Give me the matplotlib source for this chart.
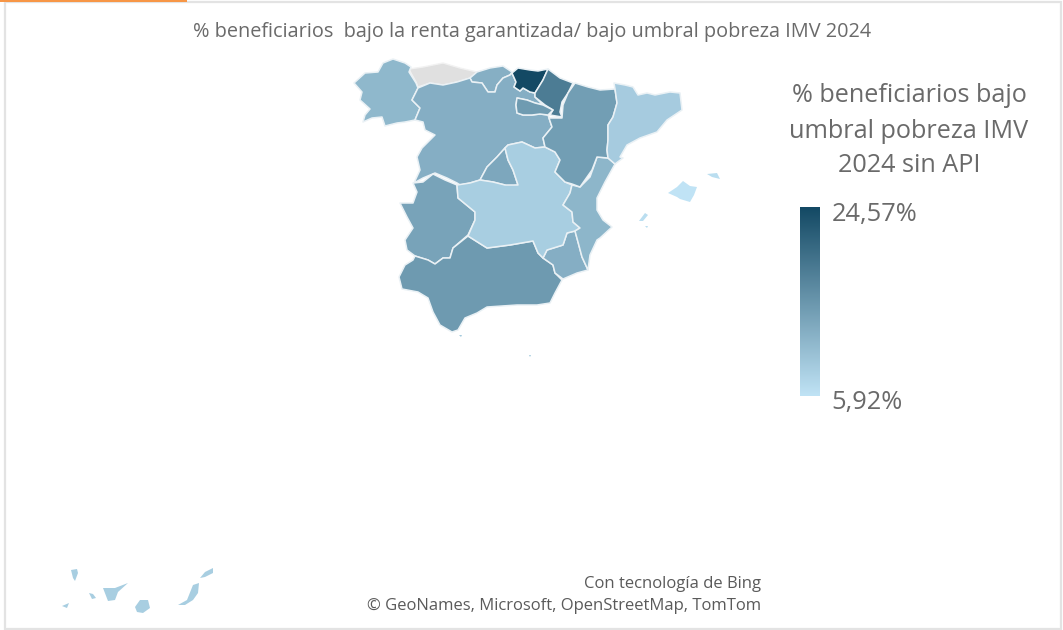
import numpy as np
import matplotlib
matplotlib.use("Agg")
import matplotlib.pyplot as plt
from matplotlib.colors import LinearSegmentedColormap, Normalize
from matplotlib.patches import Polygon, Rectangle

plt.rcParams['font.family'] = ['Open Sans', 'DejaVu Sans']

title = "% beneficiarios  bajo la renta garantizada/ bajo umbral pobreza IMV 2024"
legend_title = ["% beneficiarios bajo", "umbral pobreza IMV", "2024 sin API"]
legend_max = "24,57%"
legend_min = "5,92%"
credit = ["Con tecnología de Bing", "© GeoNames, Microsoft, OpenStreetMap, TomTom"]
v_min, v_max = 5.92, 24.57

# Region outlines, in map units
galicia = [(383,63),(393,59),(405,63),(411,67),(409,72),(416,83),(418,88),(412,100),(420,108),(415,120),(405,122),(397,123),(385,126),(382,117),(372,118),(363,122),(365,115),(370,109),(360,100),(362,92),(354,83),(365,73),(378,72)]
asturias = [(409,69),(423,67),(443,63),(460,68),(477,72),(470,78),(457,82),(443,85),(430,83),(418,87),(416,82),(411,73)]
cantabria = [(477,72),(490,68),(503,66),(512,72),(510,75),(503,78),(497,85),(495,92),(488,92),(482,83),(472,82),(470,78)]
pais_vasco = [(512,73),(518,68),(530,70),(538,71),(548,69),(543,80),(535,93),(530,92),(523,88),(520,91),(514,87),(516,82)]
navarra = [(548,69),(560,78),(573,83),(568,93),(562,102),(560,112),(562,117),(550,115),(553,110),(545,105),(535,97),(535,93),(543,80)]
la_rioja = [(517,98),(527,100),(535,103),(543,105),(553,110),(548,115),(540,114),(532,115),(523,115),(517,113),(516,105)]
castilla_leon = [(418,88),(430,83),(443,85),(457,82),(470,78),(472,82),(482,83),(488,92),(495,92),(497,85),(503,78),(510,75),(512,73),(516,82),(514,87),(520,91),(523,88),(530,92),(535,93),(535,97),(543,105),(535,103),(527,100),(517,98),(516,105),(517,113),(523,115),(532,115),(540,114),(548,115),(549,118),(552,127),(543,138),(545,147),(535,148),(522,142),(508,145),(505,148),(497,157),(487,167),(480,180),(470,183),(460,185),(457,183),(447,178),(435,173),(423,178),(414,183),(420,170),(417,157),(422,148),(435,135),(425,130),(423,122),(415,120),(420,108),(412,100)]
madrid = [(505,148),(497,157),(487,167),(480,180),(493,182),(505,185),(499,192),(507,187),(518,185),(513,170),(508,160)]
extremadura = [(413,183),(423,182),(433,174),(445,180),(457,185),(458,198),(475,212),(475,220),(468,235),(453,248),(450,258),(443,258),(435,264),(428,260),(415,256),(407,250),(405,240),(413,228),(407,217),(400,203),(413,203),(417,192)]
andalucia = [(415,256),(428,260),(435,264),(443,258),(450,258),(453,248),(468,236),(487,248),(510,245),(533,241),(538,253),(543,258),(553,265),(555,273),(562,280),(555,293),(550,303),(537,305),(517,305),(487,307),(477,313),(465,318),(458,330),(452,332),(440,325),(433,312),(428,298),(418,292),(402,289),(399,277),(405,265),(413,260)]
murcia = [(543,258),(547,250),(563,245),(567,233),(575,231),(578,242),(582,257),(588,270),(577,273),(563,279),(555,273),(553,265)]
castilla_mancha = [(457,185),(470,183),(480,180),(493,182),(505,185),(518,185),(513,170),(508,160),(505,148),(508,145),(522,142),(535,148),(545,147),(555,152),(560,160),(555,172),(565,182),(572,185),(570,193),(563,205),(572,212),(573,222),(580,228),(575,231),(567,233),(563,245),(547,250),(543,258),(538,253),(533,241),(510,245),(487,248),(468,236),(475,220),(475,212),(458,198)]
valencia = [(597,157),(608,158),(615,164),(605,182),(597,198),(597,210),(603,220),(612,227),(600,238),(597,240),(590,255),(588,270),(582,257),(578,242),(575,231),(580,228),(573,222),(572,212),(563,205),(570,193),(572,185),(580,187),(590,177),(595,163)]
aragon = [(575,83),(588,87),(600,90),(615,89),(617,103),(613,117),(608,125),(608,140),(607,150),(608,158),(597,157),(592,170),(580,187),(572,184),(565,182),(555,172),(560,160),(555,152),(545,147),(543,138),(552,127),(549,118),(562,118),(563,105),(568,93)]
cataluna = [(614,83),(625,85),(633,87),(638,95),(647,93),(655,95),(670,92),(680,93),(682,110),(667,120),(657,132),(640,138),(627,145),(620,157),(623,158),(615,164),(608,158),(607,150),(608,140),(608,125),(613,117),(617,103),(615,89)]
mallorca = [(668,193),(677,187),(683,181),(690,186),(697,187),(694,195),(690,202),(680,199),(677,197)]
menorca = [(707,174),(717,173),(720,179),(712,177)]
ibiza = [(639,221),(645,213),(648,215),(643,221)]
formentera = [(645,226),(648,226),(647,228)]
la_palma = [(71,570),(77,569),(78,573),(75,581),(73,578)]
el_hierro = [(62,606),(69,603),(67,608)]
la_gomera = [(89,593),(93,594),(96,598),(92,599)]
tenerife = [(103,588),(115,588),(128,583),(118,592),(115,600),(108,601)]
gran_canaria = [(135,607),(140,600),(148,600),(150,608),(143,613),(137,612)]
fuerteventura = [(178,605),(187,600),(193,585),(199,583),(198,593),(193,600),(185,605)]
lanzarote = [(200,578),(205,572),(213,568),(213,573),(205,577)]
ceuta = [(459,335),(462,335),(461,337)]
melilla = [(529,355),(531,355),(530,357)]

regions = [galicia, cantabria, castilla_leon, pais_vasco, navarra, la_rioja, madrid,
           extremadura, andalucia, murcia, castilla_mancha, valencia, aragon, cataluna]
region_values = [11.2, 12.2, 12.3, 24.57, 18.4, 14.7, 13.2, 13.7, 14.8, 12.3, 8.5, 11.4, 14.3, 8.8]
islands = [mallorca, menorca, ibiza, formentera, la_palma, el_hierro, la_gomera,
           tenerife, gran_canaria, fuerteventura, lanzarote, ceuta, melilla]
island_values = [5.92, 6.6, 6.6, 6.6, 8.5, 8.5, 8.5, 8.5, 8.5, 8.5, 8.5, 9.0, 9.0]

cmap = LinearSegmentedColormap.from_list("m", ["#C0E3F5", "#134964"])
norm = Normalize(v_min, v_max)

fig = plt.figure(figsize=(10.63, 6.30), dpi=100, facecolor="white")
ax = fig.add_axes([0, 0, 1, 1])
ax.set_xlim(0, 1063)
ax.set_ylim(630, 0)
ax.axis("off")

# Chart frame
ax.add_patch(Rectangle((5, 1.5), 1056, 627, fc="none", ec="#E3E3E3", lw=1.6))
ax.add_patch(Rectangle((0, 0), 187, 1.8, fc="#F79646", ec="none"))

ax.add_patch(Polygon(asturias, closed=True, fc="#E0E0E0", ec="#F2F2F2", lw=1.0, zorder=2))
for poly, val in zip(regions, region_values):
    ax.add_patch(Polygon(poly, closed=True, fc=cmap(norm(val)), ec="#EAF1F5", lw=1.1,
                         joinstyle="round", zorder=3))
for poly, val in zip(islands, island_values):
    ax.add_patch(Polygon(poly, closed=True, fc=cmap(norm(val)), ec="none", zorder=3))

# Colour scale
grad = np.linspace(v_max, v_min, 256).reshape(-1, 1)
ax.imshow(grad, cmap=cmap, norm=norm, extent=(800, 820, 396, 207), aspect="auto", zorder=3)
ax.set_xlim(0, 1063)
ax.set_ylim(630, 0)

grey = "#6A6A6A"
ax.text(532, 32, title, ha="center", va="center", fontsize=14.3, color=grey)
for t, y in zip(legend_title, [95, 131, 166]):
    ax.text(909, y, t, ha="center", va="center", fontsize=18.2, color=grey)
ax.text(832, 214, legend_max, ha="left", va="center", fontsize=18.4, color=grey)
ax.text(831, 403, legend_min, ha="left", va="center", fontsize=18.4, color=grey)
for t, y in zip(credit, [584, 606]):
    ax.text(761, y, t, ha="right", va="center", fontsize=12.0, color="#5A5A5A")

fig.savefig("out.png", dpi=100)
